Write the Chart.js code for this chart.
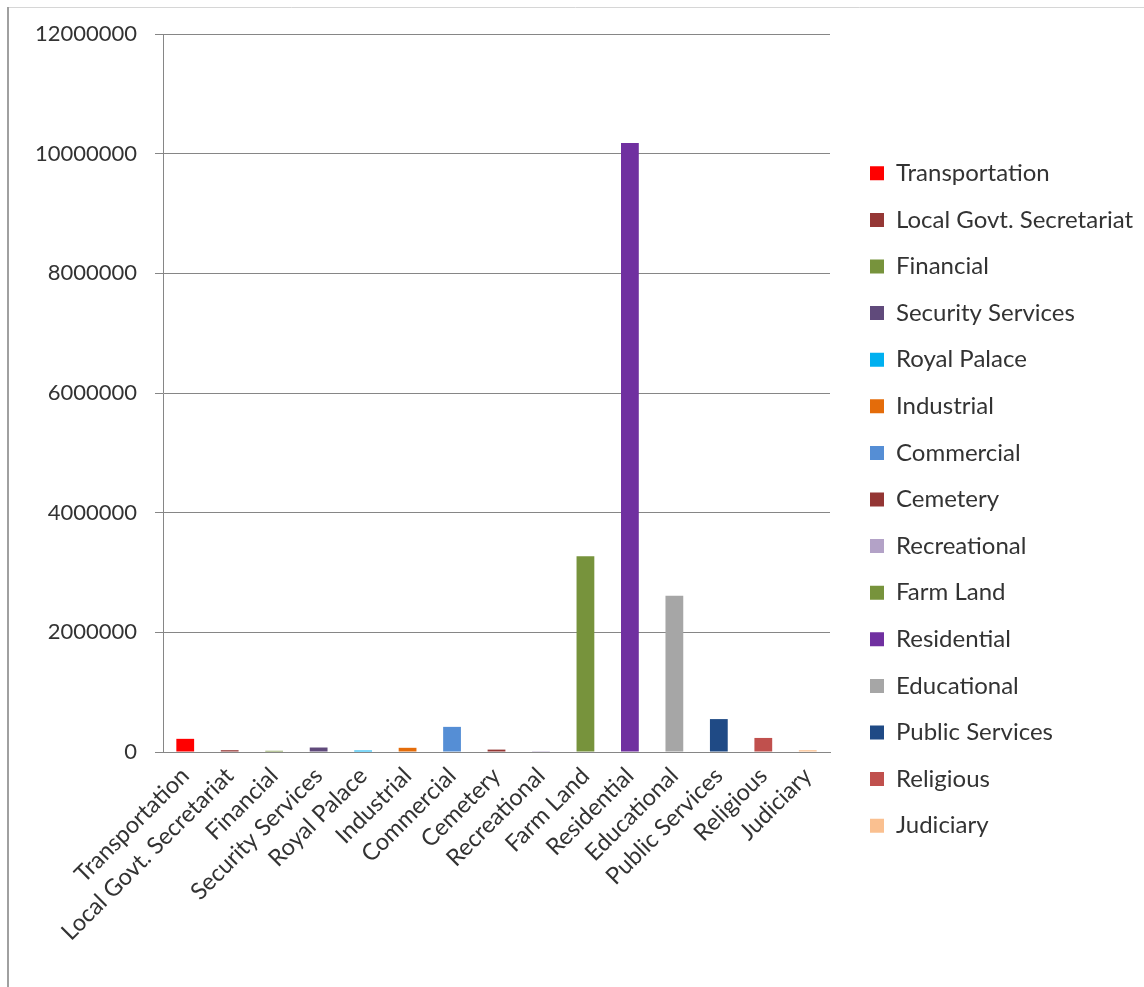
<!DOCTYPE html>
<html>
<head>
<meta charset="utf-8">
<script src="https://cdn.jsdelivr.net/npm/chart.js@4.4.1/dist/chart.umd.min.js"></script>
<style>
  html, body { margin: 0; padding: 0; background: #fff; }
  #wrap { position: absolute; left: 0; top: 0; width: 1144px; height: 987px; }
</style>
</head>
<body>
<div id="wrap"><canvas id="c" width="1144" height="987"></canvas></div>
<script>
const categories = ["Transportation", "Local Govt. Secretariat", "Financial", "Security Services", "Royal Palace", "Industrial", "Commercial", "Cemetery", "Recreational", "Farm Land", "Residential", "Educational", "Public Services", "Religious", "Judiciary"];
const areaValues = [220000, 30000, 20000, 75000, 25000, 70000, 420000, 40000, 2000, 3270000, 10180000, 2610000, 550000, 235000, 30000];
const barColors = ["#FF0000", "#953735", "#77933C", "#604A7B", "#00B0F0", "#E46C0A", "#558ED5", "#943634", "#B3A2C7", "#77933C", "#7030A0", "#A6A6A6", "#1F4A85", "#C0504D", "#FAC090"];
const yTicks = [0, 2000000, 4000000, 6000000, 8000000, 10000000, 12000000];

const FONT = "Lato";
const legendFontSize = 24;
const legendPad = 22.6;
const legendBox = 14;
const legendItemX = 870;
const plotRight = 830;

// measure legend text to position the legend box
const mctx = document.createElement('canvas').getContext('2d');
mctx.font = legendFontSize + "px " + FONT;
let maxW = 0;
categories.forEach(t => { maxW = Math.max(maxW, mctx.measureText(t).width); });
const legendWidth = legendPad + legendBox + legendFontSize / 2 + maxW + 10;
const padRight = 1144 - (legendItemX - legendPad) - legendWidth;
const spacerWidth = (legendItemX - legendPad) - plotRight;

const framePlugin = {
  id: 'frame',
  beforeDraw(chart) {
    const ctx = chart.ctx;
    ctx.save();
    ctx.fillStyle = '#ffffff';
    ctx.fillRect(0, 0, chart.width, chart.height);
    ctx.strokeStyle = '#d6d6d6';
    ctx.lineWidth = 1;
    ctx.beginPath();
    ctx.moveTo(7, 7.5);
    ctx.lineTo(chart.width, 7.5);
    ctx.stroke();
    ctx.strokeStyle = '#a0a0a0';
    ctx.lineWidth = 2;
    ctx.beginPath();
    ctx.moveTo(8, 7);
    ctx.lineTo(8, chart.height);
    ctx.stroke();
    ctx.restore();
  }
};

new Chart(document.getElementById('c'), {
  type: 'bar',
  data: {
    labels: categories,
    datasets: [{
      label: 'Area',
      data: areaValues,
      backgroundColor: barColors,
      borderWidth: 0,
      categoryPercentage: 1.0,
      barPercentage: 0.4
    }]
  },
  options: {
    responsive: false,
    animation: false,
    devicePixelRatio: 1,
    layout: { padding: { top: 34, bottom: 22, left: 0, right: Math.max(0, padRight) } },
    plugins: {
      tooltip: { enabled: false },
      legend: {
        position: 'right',
        align: 'center',
        maxWidth: 420,
        onClick: null,
        labels: {
          font: { family: FONT, size: legendFontSize },
          color: '#333333',
          boxWidth: legendBox,
          boxHeight: legendBox,
          padding: legendPad,
          generateLabels: () => categories.map((t, i) => ({
            text: t,
            fillStyle: barColors[i],
            strokeStyle: barColors[i],
            lineWidth: 0,
            hidden: false,
            index: i,
            fontColor: '#333333'
          }))
        }
      }
    },
    scales: {
      x: {
        grid: { display: false, drawOnChartArea: false, drawTicks: true, tickLength: 8, color: '#868686', offset: true },
        border: { display: true, color: '#868686', width: 1 },
        ticks: {
          font: { family: FONT, size: 23.5 },
          color: '#333333',
          minRotation: 45,
          maxRotation: 45,
          padding: 2,
          autoSkip: false
        },
        afterFit(s) { s.height = 987 - 22 - 752; }
      },
      y: {
        min: 0,
        max: 12000000,
        afterBuildTicks(s) { s.ticks = yTicks.map(v => ({ value: v })); },
        grid: { color: '#868686', tickLength: 8, drawTicks: true },
        border: { display: true, color: '#868686', width: 1 },
        ticks: {
          font: { family: FONT, size: 22 },
          color: '#333333',
          padding: 18,
          callback: v => String(v)
        },
        afterFit(s) { s.width = 163; }
      },
      spacer: {
        type: 'linear',
        position: 'right',
        display: true,
        grid: { display: false },
        border: { display: false },
        ticks: { display: false },
        afterFit(s) { s.width = Math.max(0, spacerWidth); }
      }
    }
  },
  plugins: [framePlugin]
});
</script>
</body>
</html>
